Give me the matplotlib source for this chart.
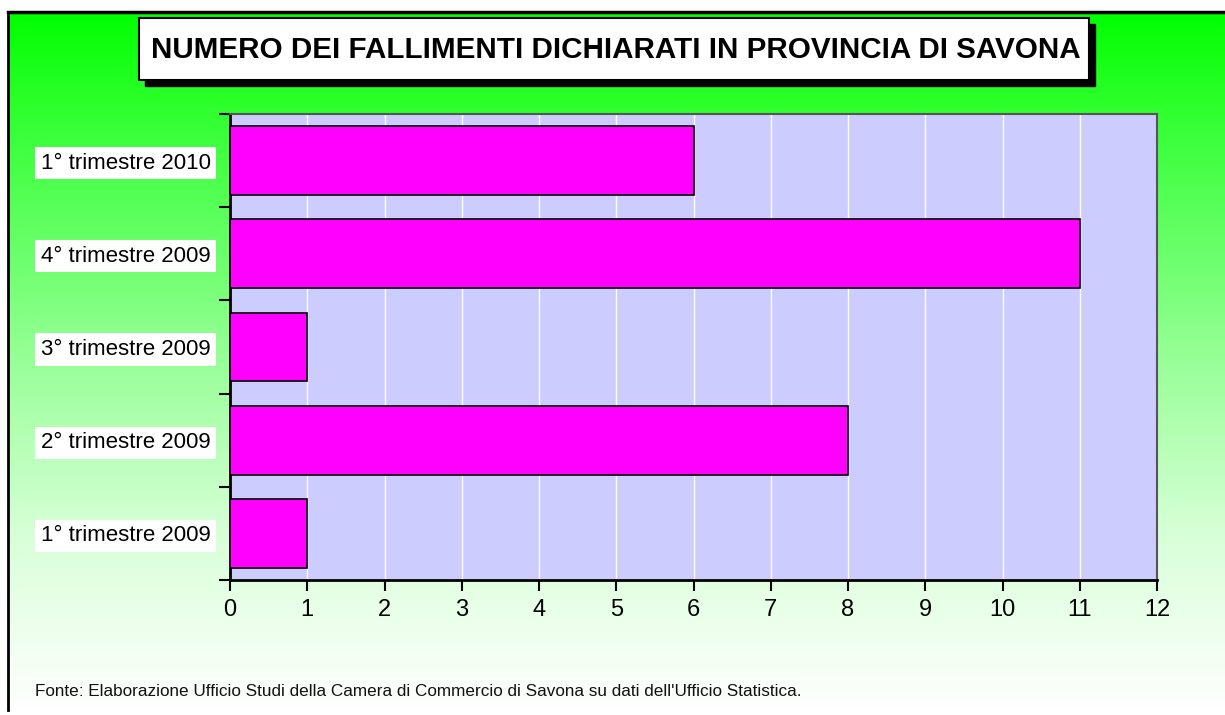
import matplotlib
matplotlib.use("Agg")
import matplotlib.pyplot as plt
import numpy as np
from matplotlib.patches import Rectangle

plt.rcParams['font.family'] = ['Liberation Sans', 'DejaVu Sans']

categories = ["1° trimestre 2009", "2° trimestre 2009", "3° trimestre 2009",
              "4° trimestre 2009", "1° trimestre 2010"]
values = [1, 8, 1, 11, 6]
x_ticks = list(range(0, 13))
title = "NUMERO DEI FALLIMENTI DICHIARATI IN PROVINCIA DI SAVONA"
footer = "Fonte: Elaborazione Ufficio Studi della Camera di Commercio di Savona su dati dell'Ufficio Statistica."

W, H = 1225, 715
fig = plt.figure(figsize=(W / 100, H / 100), dpi=100)
fig.patch.set_facecolor("white")

# background gradient
bg = fig.add_axes([0, 0, 1, 1], zorder=-10)
bg.set_xlim(0, W)
bg.set_ylim(H, 0)
bg.axis("off")
ys = np.linspace(0, 1, 300)
v = np.interp(ys, [0, 0.15, 0.5, 0.75, 1.0], [0, 0.2, 0.6, 0.85, 1.0])
img = np.zeros((300, 1, 3))
img[:, 0, 0] = v
img[:, 0, 1] = 1.0
img[:, 0, 2] = v
bg.imshow(img, extent=[8, W, H, 12], aspect="auto", interpolation="bilinear")
bg.plot([8, 8], [12, 710], color="black", lw=2)
bg.plot([8, W], [12, 12], color="black", lw=2.5)

# title box with shadow
bg.add_patch(Rectangle((145, 24), 950, 62, facecolor="black", edgecolor="black", zorder=2))
bg.add_patch(Rectangle((139, 18), 950, 62, facecolor="white", edgecolor="black", lw=1.5, zorder=3))
bg.text(616, 50, title, ha="center", va="center", fontsize=21.3, fontweight="bold", zorder=4)
bg.text(35, 691, footer, ha="left", va="center", fontsize=12.3, color="#111111")

ax = fig.add_axes([230 / W, 1 - 580 / H, (1157 - 230) / W, (580 - 114) / H])
ax.set_facecolor("#CCCCFF")
y = np.arange(len(categories))
ax.barh(y, values, height=0.74, color="#FF00FF", edgecolor="black", linewidth=1.2, zorder=3)
ax.set_xlim(0, 12)
ax.set_ylim(-0.5, len(categories) - 0.5)
ax.set_xticks(x_ticks)
ax.set_xticklabels([str(t) for t in x_ticks], fontsize=17)
ax.set_yticks(y)
ax.set_yticklabels(categories, fontsize=16)
ax.set_yticks(np.arange(-0.5, len(categories), 1.0), minor=True)
ax.tick_params(axis="y", which="major", length=0, pad=14)
ax.tick_params(axis="y", which="minor", length=8, width=1.5, direction="out")
ax.tick_params(axis="x", which="major", length=8, width=1.5, direction="out", pad=6)
for lbl in ax.get_yticklabels():
    lbl.set_bbox(dict(facecolor="white", edgecolor="none", pad=4))
ax.grid(axis="x", color="white", lw=1, zorder=1)
ax.set_axisbelow(True)
for s in ["left", "bottom"]:
    ax.spines[s].set_color("black")
    ax.spines[s].set_linewidth(2)
for s in ["top", "right"]:
    ax.spines[s].set_color("#555555")
    ax.spines[s].set_linewidth(1.5)

fig.savefig("out.png", dpi=100)
